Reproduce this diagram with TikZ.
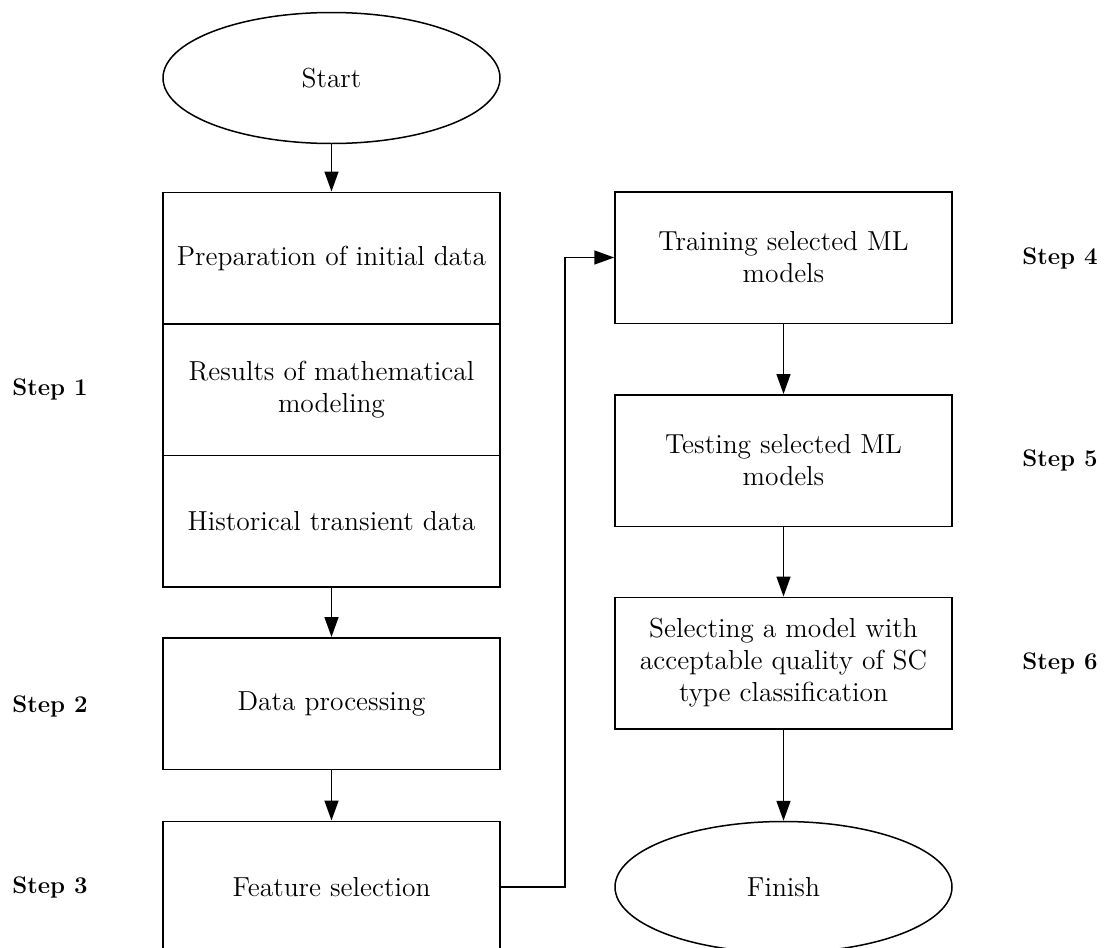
\documentclass[tikz,border=0pt]{standalone}
\usepackage{tikz}
\usetikzlibrary{shapes.geometric,arrows.meta,positioning}

\tikzset{
    stepbox/.style={draw, rectangle, line width=0.75pt, minimum width=168.5pt, minimum height=65.75pt, inner sep=2pt, align=center, font=\fontsize{13.75}{16}\selectfont},
    terminal/.style={draw, ellipse, line width=0.75pt, minimum width=168.5pt, minimum height=65.5pt, inner sep=0pt, font=\fontsize{13.75}{16}\selectfont},
    steplabel/.style={font=\fontsize{12}{14}\selectfont\bfseries},
    flow/.style={-{Triangle[length=10pt,width=7pt]}, line width=0.75pt}
}

\begin{document}
\begin{tikzpicture}[x=0.5pt, y=-0.5pt]
    \useasboundingbox (0,0) rectangle (1104,948);
    % left column
    \node[terminal] (start) at (331.5,78) {Start};
    \node[stepbox] (prep) at (331.5,258) {Preparation of initial data};
    \node[stepbox] (results) at (331.5,389.5) {Results of mathematical\\modeling};
    \node[stepbox] (hist) at (331.5,521) {Historical transient data};
    \node[stepbox] (proc) at (331.5,703.5) {Data processing};
    \node[stepbox] (feat) at (331.5,887) {Feature selection};
    % right column
    \node[stepbox] (train) at (783.5,257.5) {Training selected ML\\models};
    \node[stepbox] (test) at (783.5,460.5) {Testing selected ML\\models};
    \node[stepbox] (select) at (783.5,663) {Selecting a model with\\acceptable quality of SC\\type classification};
    \node[terminal] (finish) at (783.5,887) {Finish};
    % step labels
    \node[steplabel] (s1) at (50,389) {Step 1};
    \node[steplabel] (s2) at (50,706) {Step 2};
    \node[steplabel] (s3) at (50,887) {Step 3};
    \node[steplabel] (s4) at (1060,258) {Step 4};
    \node[steplabel] (s5) at (1060,460) {Step 5};
    \node[steplabel] (s6) at (1060,663) {Step 6};
    % arrows
    \draw[flow] (start) -- (prep);
    \draw[flow] (hist) -- (proc);
    \draw[flow] (proc) -- (feat);
    \draw[flow] (feat.east) -- ++(64,0) |- (train.west);
    \draw[flow] (train) -- (test);
    \draw[flow] (test) -- (select);
    \draw[flow] (select) -- (finish);
\end{tikzpicture}
\end{document}
